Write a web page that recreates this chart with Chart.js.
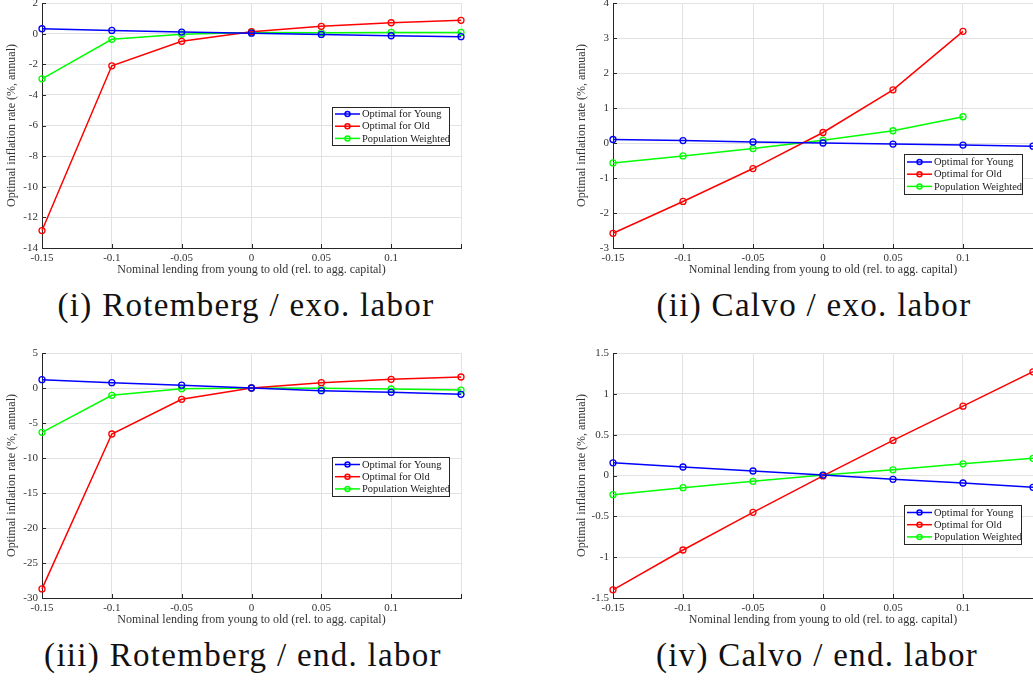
<!DOCTYPE html>
<html lang="en">
<head>
<meta charset="UTF-8">
<title>Optimal inflation vs nominal lending</title>
<script src="https://cdn.jsdelivr.net/npm/chart.js"></script>
<style>
  body { margin: 0; background: #fff; width: 1033px; height: 684px; overflow: hidden; position: relative; }
  .panel { position: absolute; }
  .caption { position: absolute; font-family: 'Liberation Serif', serif; font-size: 33px; letter-spacing: 1.3px; color: #111; white-space: nowrap; transform: translateX(-50%); }
</style>
</head>
<body>

<div class="panel" style="left:0;top:0;width:470px;height:281px"><canvas id="c1" width="470" height="281"></canvas></div>
<div class="panel" style="left:570px;top:0;width:463px;height:281px"><canvas id="c2" width="463" height="281"></canvas></div>
<div class="panel" style="left:0;top:345px;width:470px;height:286px"><canvas id="c3" width="470" height="286"></canvas></div>
<div class="panel" style="left:570px;top:345px;width:463px;height:286px"><canvas id="c4" width="463" height="286"></canvas></div>

<div class="caption" style="left:246px;top:287px">(i) Rotemberg / exo. labor</div>
<div class="caption" style="left:814px;top:287px">(ii) Calvo / exo. labor</div>
<div class="caption" style="left:243px;top:637px">(iii) Rotemberg / end. labor</div>
<div class="caption" style="left:817px;top:637px">(iv) Calvo / end. labor</div>

<script>
// x values: nominal lending from young to old
const lending = [-0.15, -0.1, -0.05, 0, 0.05, 0.1, 0.15];

// (i) Rotemberg / exo. labor
const rotExoYoung = [0.32, 0.21, 0.1, 0.03, -0.05, -0.14, -0.2];
const rotExoOld   = [-12.86, -2.1, -0.5, 0.13, 0.48, 0.71, 0.87];
const rotExoPop   = [-2.95, -0.37, -0.04, 0.08, 0.06, 0.08, 0.08];

// (ii) Calvo / exo. labor (old and weighted stop at 0.1)
const calExoYoung = [0.1, 0.07, 0.03, 0.0, -0.03, -0.06, -0.09];
const calExoOld   = [-2.58, -1.67, -0.73, 0.3, 1.52, 3.19];
const calExoPop   = [-0.57, -0.37, -0.16, 0.08, 0.35, 0.75];

// (iii) Rotemberg / end. labor
const rotEndYoung = [1.19, 0.76, 0.4, 0.0, -0.38, -0.62, -0.9];
const rotEndOld   = [-28.7, -6.57, -1.62, 0.0, 0.76, 1.24, 1.57];
const rotEndPop   = [-6.33, -1.05, -0.1, 0.0, -0.05, -0.14, -0.29];

// (iv) Calvo / end. labor
const calEndYoung = [0.155, 0.104, 0.055, 0.005, -0.047, -0.092, -0.145];
const calEndOld   = [-1.4, -0.912, -0.451, -0.005, 0.43, 0.849, 1.27];
const calEndPop   = [-0.235, -0.149, -0.071, 0.005, 0.069, 0.143, 0.21];

const seriesNames = ['Optimal for Young', 'Optimal for Old', 'Population Weighted'];
const seriesColors = ['#0000ff', '#ff0000', '#00ff00'];

// y-axis ranges per panel
const yRanges = [
  { min: -14, max: 2, step: 2 },
  { min: -3, max: 4, step: 1 },
  { min: -30, max: 5, step: 5 },
  { min: -1.5, max: 1.5, step: 0.5 }
];

const serif = "'Liberation Serif', 'Times New Roman', serif";
const axisColor = '#262626';

function points(vals) {
  return vals.map((v, i) => ({ x: lending[i], y: v }));
}

function fmt(v) {
  return String(Math.round(v * 100) / 100);
}

// legend box drawn inside the plot, like matlab's
const boxLegend = {
  id: 'boxLegend',
  afterDraw(chart, args, opts) {
    const ctx = chart.ctx;
    const x = opts.x, y = opts.y, w = opts.w, h = opts.h;
    ctx.save();
    ctx.fillStyle = '#fff';
    ctx.fillRect(x, y, w, h);
    ctx.strokeStyle = axisColor;
    ctx.lineWidth = 1;
    ctx.strokeRect(x + 0.5, y + 0.5, w, h);
    ctx.font = '10.5px ' + serif;
    ctx.textBaseline = 'middle';
    chart.data.datasets.forEach((ds, i) => {
      const ry = y + 7 + i * 12.2 + (h - 38) / 2;
      ctx.strokeStyle = ds.borderColor;
      ctx.lineWidth = 1.5;
      ctx.beginPath();
      ctx.moveTo(x + 3, ry);
      ctx.lineTo(x + 28, ry);
      ctx.stroke();
      ctx.beginPath();
      ctx.arc(x + 15.5, ry, 2.5, 0, Math.PI * 2);
      ctx.stroke();
      ctx.fillStyle = '#222';
      ctx.fillText(ds.label, x + 30, ry + 0.5);
    });
    ctx.restore();
  }
};

// small inward tick marks on left and bottom axes
const inTicks = {
  id: 'inTicks',
  afterDatasetsDraw(chart) {
    const ctx = chart.ctx, a = chart.chartArea;
    const xs = chart.scales.x, ys = chart.scales.y;
    ctx.save();
    ctx.strokeStyle = axisColor;
    ctx.lineWidth = 1;
    ctx.beginPath();
    ys.ticks.forEach(t => {
      const py = Math.round(ys.getPixelForValue(t.value)) + 0.5;
      ctx.moveTo(a.left, py);
      ctx.lineTo(a.left + 4, py);
    });
    xs.ticks.forEach(t => {
      const px = Math.round(xs.getPixelForValue(t.value)) + 0.5;
      ctx.moveTo(px, a.bottom);
      ctx.lineTo(px, a.bottom - 4);
    });
    ctx.stroke();
    ctx.restore();
  }
};

function makeChart(id, young, old, pop, range, opt) {
  const data = [young, old, pop];
  new Chart(document.getElementById(id), {
    type: 'line',
    data: {
      datasets: data.map((vals, i) => ({
        label: seriesNames[i],
        data: points(vals),
        borderColor: seriesColors[i],
        backgroundColor: 'rgba(0,0,0,0)',
        pointBackgroundColor: 'rgba(255,255,255,0)',
        pointBorderColor: seriesColors[i],
        pointRadius: 3,
        pointBorderWidth: 1.3,
        borderWidth: 1.5,
        tension: 0
      }))
    },
    options: {
      responsive: false,
      animation: false,
      clip: false,
      layout: { autoPadding: false, padding: { top: opt.top, right: opt.right, left: 0, bottom: 0 } },
      plugins: {
        legend: { display: false },
        tooltip: { enabled: false },
        boxLegend: opt.legend
      },
      scales: {
        x: {
          type: 'linear',
          min: -0.15,
          max: 0.15,
          afterFit(s) { s.height = 33; s.paddingLeft = 0; s.paddingRight = 0; },
          ticks: {
            stepSize: 0.05,
            padding: 4,
            color: '#333',
            font: { family: serif, size: 11 },
            maxRotation: 0,
            callback: v => (v > 0.149 ? '' : fmt(v))
          },
          grid: { color: '#e2e2e2', drawTicks: false },
          border: { color: axisColor, width: 1 },
          title: {
            display: true,
            text: 'Nominal lending from young to old (rel. to agg. capital)',
            color: '#333',
            font: { family: serif, size: 12 },
            padding: { top: 0, bottom: 4 }
          }
        },
        y: {
          min: range.min,
          max: range.max,
          afterFit(s) { s.width = opt.yWidth; s.paddingTop = 0; s.paddingBottom = 0; },
          ticks: {
            stepSize: range.step,
            padding: 4,
            color: '#333',
            font: { family: serif, size: 11 },
            callback: v => fmt(v)
          },
          grid: { color: '#e2e2e2', drawTicks: false },
          border: { color: axisColor, width: 1 },
          title: {
            display: true,
            text: 'Optimal inflation rate (%, annual)',
            color: '#333',
            font: { family: serif, size: 12 },
            padding: { top: 5, bottom: 0 }
          }
        }
      }
    },
    plugins: [boxLegend, inTicks]
  });
}

makeChart('c1', rotExoYoung, rotExoOld, rotExoPop, yRanges[0],
  { top: 3, right: 9, yWidth: 42, legend: { x: 332, y: 107, w: 117, h: 38 } });
makeChart('c2', calExoYoung, calExoOld, calExoPop, yRanges[1],
  { top: 3, right: 0, yWidth: 43, legend: { x: 334, y: 154, w: 118, h: 40 } });
makeChart('c3', rotEndYoung, rotEndOld, rotEndPop, yRanges[2],
  { top: 8, right: 9, yWidth: 42, legend: { x: 332, y: 112, w: 117, h: 39 } });
makeChart('c4', calEndYoung, calEndOld, calEndPop, yRanges[3],
  { top: 8, right: 0, yWidth: 43, legend: { x: 334, y: 160, w: 117, h: 39 } });
</script>

</body>
</html>
